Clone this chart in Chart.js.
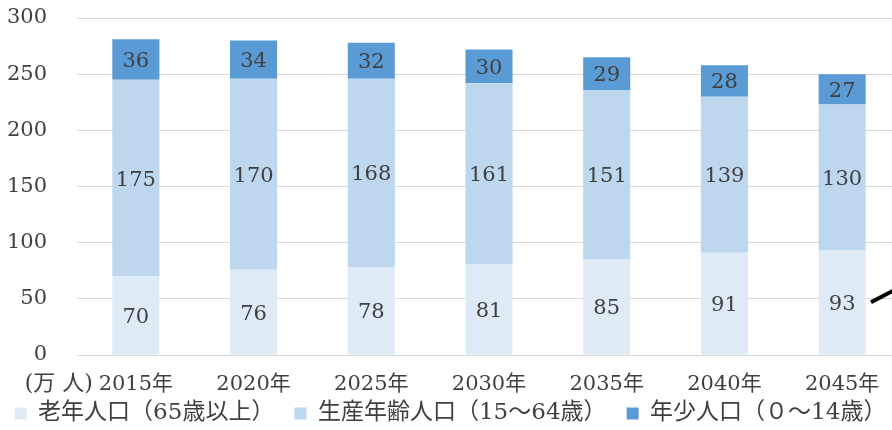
<!DOCTYPE html>
<html>
<head>
<meta charset="utf-8">
<script src="https://cdn.jsdelivr.net/npm/chart.js@4"></script>
<style>
  html, body { margin: 0; padding: 0; background: #fff; overflow: hidden; }
  .wrap { width: 910px; height: 430px; }
</style>
</head>
<body>
<div class="wrap"><canvas id="pop" width="910" height="430"></canvas></div>
<script>
const years = ['2015年', '2020年', '2025年', '2030年', '2035年', '2040年', '2045年'];
const elderly = [70, 76, 78, 81, 85, 91, 93];
const working = [175, 170, 168, 161, 151, 139, 130];
const young = [36, 34, 32, 30, 29, 28, 27];
const seriesNames = ['老年人口（65歳以上）', '生産年齢人口（15〜64歳）', '年少人口（０〜14歳）'];
const seriesColors = ['#DEEBF7', '#BDD7EE', '#5B9BD5'];

const FONT = '"DejaVu Serif", "Noto Sans CJK JP", serif';
const TEXT = '#404040';

// values written in the middle of each segment
const segmentLabels = {
    id: 'segmentLabels',
    afterDatasetsDraw(chart) {
        const ctx = chart.ctx;
        ctx.save();
        ctx.font = '21px ' + FONT;
        ctx.fillStyle = TEXT;
        ctx.textAlign = 'center';
        ctx.textBaseline = 'middle';
        chart.data.datasets.forEach((ds, i) => {
            chart.getDatasetMeta(i).data.forEach((bar, j) => {
                ctx.fillText(ds.data[j], bar.x, (bar.y + bar.base) / 2 + 2);
            });
        });
        ctx.restore();
    }
};

// unit label left of the first category + cut-off arrow at right edge
const extras = {
    id: 'extras',
    afterDraw(chart) {
        const ctx = chart.ctx;
        const xs = chart.scales.x;
        const ys = chart.scales.y;
        ctx.save();
        ctx.font = '22px ' + FONT;
        ctx.fillStyle = TEXT;
        ctx.textAlign = 'right';
        ctx.textBaseline = 'middle';
        ctx.fillText('(万 人)', xs.getPixelForValue(0) - 43, ys.bottom + 29);
        ctx.strokeStyle = '#000';
        ctx.lineWidth = 4;
        ctx.beginPath();
        ctx.moveTo(871, ys.getPixelForValue(47));
        ctx.lineTo(895, ys.getPixelForValue(58));
        ctx.stroke();
        ctx.restore();
    }
};

new Chart(document.getElementById('pop'), {
    type: 'bar',
    data: {
        labels: years,
        datasets: [
            { label: seriesNames[0], data: elderly, backgroundColor: seriesColors[0] },
            { label: seriesNames[1], data: working, backgroundColor: seriesColors[1] },
            { label: seriesNames[2], data: young, backgroundColor: seriesColors[2] }
        ]
    },
    options: {
        responsive: false,
        animation: false,
        categoryPercentage: 1,
        barPercentage: 0.4,
        layout: { padding: { top: 0, right: 9, left: 0, bottom: -5 } },
        scales: {
            x: {
                stacked: true,
                grid: { display: false, drawTicks: false },
                border: { color: '#D9D9D9', width: 1 },
                ticks: { color: TEXT, font: { family: FONT, size: 21 }, maxRotation: 0, padding: 17 },
                afterFit: (s) => { s.height = 43; }
            },
            y: {
                stacked: true,
                min: 0, max: 300,
                ticks: { stepSize: 50, color: TEXT, font: { family: FONT, size: 21 }, padding: 30 },
                grid: { color: '#D9D9D9', drawTicks: false },
                border: { display: false },
                // fixed axis width, and no extra room on top for the tick padding
                afterFit: (s) => { s.width = 77; s.paddingTop = 18; s.paddingBottom = 0; }
            }
        },
        plugins: {
            tooltip: { enabled: false },
            legend: {
                position: 'bottom',
                labels: {
                    color: TEXT,
                    font: { family: FONT, size: 23 },
                    boxWidth: 12, boxHeight: 12,
                    padding: 4,
                    generateLabels: (chart) => Chart.defaults.plugins.legend.labels.generateLabels(chart)
                        .map((item, i) => ({ ...item, text: i < 2 ? item.text + '\u3000\u2009' : item.text }))
                }
            }
        }
    },
    plugins: [segmentLabels, extras]
});
</script>
</body>
</html>
